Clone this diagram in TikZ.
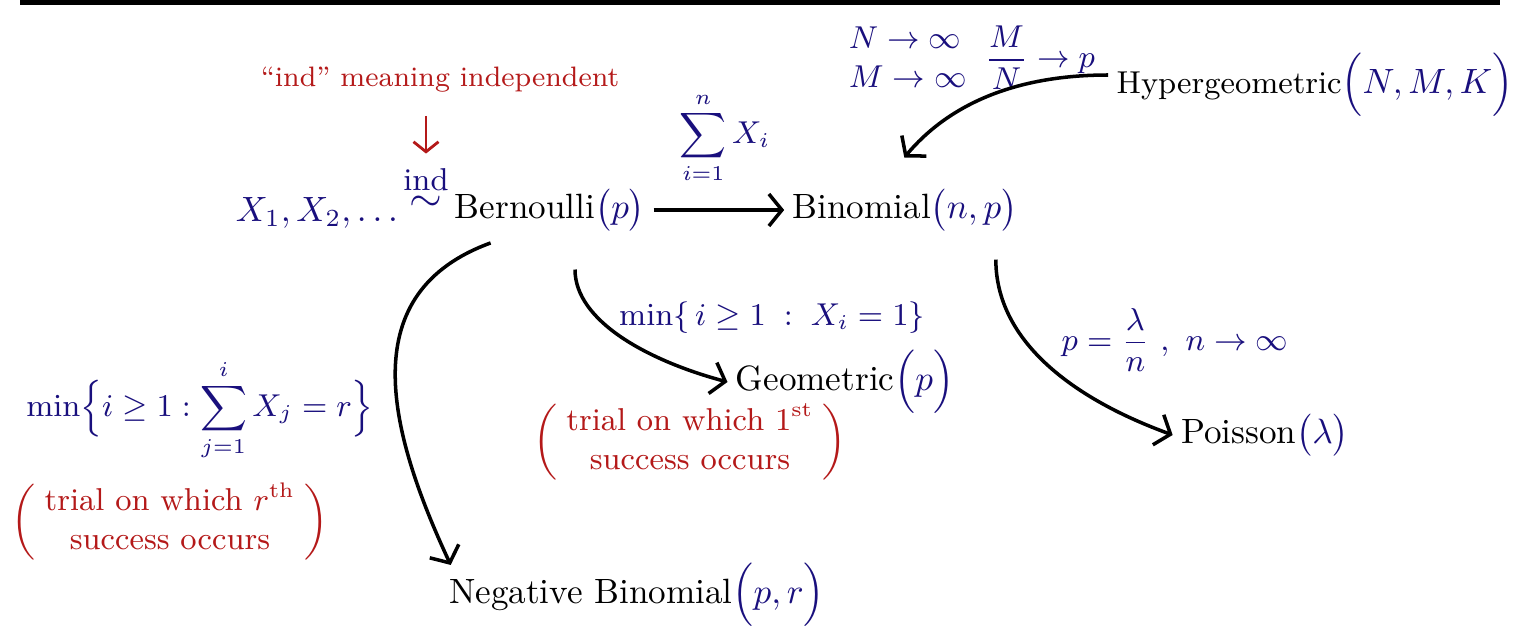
\documentclass[tikz,border=0pt]{standalone}
\usepackage{amsmath}
\usetikzlibrary{calc,arrows.meta}
\definecolor{inkblue}{RGB}{25,15,125}
\definecolor{inkred}{RGB}{180,25,25}

\begin{document}
\begin{tikzpicture}[thick,
  arr/.style={-{Straight Barb[length=1.3mm,width=3.2mm]}, line width=1pt},
  dist/.style={inner sep=2pt, font=\normalsize},
  lbl/.style={text=inkblue, font=\small},
  note/.style={text=inkred, font=\small}]
  \useasboundingbox (0,0) rectangle (15.18,-6.44);
  % 顶部粗线
  \draw[line width=3pt] (0.2,0) -- (15.0,0);
  % 分布
  \node[dist] (bern) at (5.50,-2.10) {Bernoulli\textcolor{inkblue}{$\bigl(p\bigr)$}};
  \node[dist] (binom) at (9.05,-2.10) {Binomial\textcolor{inkblue}{$\bigl(n,p\bigr)$}};
  \node[dist] (hyper) at (13.15,-0.85) {{\small Hypergeometric}\textcolor{inkblue}{$\Bigl(N,M,K\Bigr)$}};
  \node[dist] (geo) at (8.45,-3.82) {Geometric\textcolor{inkblue}{$\Bigl(p\Bigr)$}};
  \node[dist] (nbin) at (6.37,-5.95) {Negative Binomial\textcolor{inkblue}{$\Bigl(p,r\Bigr)$}};
  \node[dist] (pois) at (12.65,-4.35) {Poisson\textcolor{inkblue}{$\bigl(\lambda\bigr)$}};
  % 标注
  \node[lbl, font=\normalsize] (xs) at (3.17,-2.13) {$X_1, X_2, \ldots$};
  \node[lbl, align=center, inner sep=1pt] (sim) at (4.26,-1.90) {ind\\[-5pt]{\large$\sim$}};
  \node[note, font=\footnotesize] (indnote) at (4.40,-0.80) {``ind'' meaning independent};
  \node[lbl] (sumlbl) at (7.25,-1.38) {$\displaystyle\sum_{i=1}^{n} X_i$};
  \node[lbl] (hyplbl) at (9.72,-0.60) {$\begin{array}{@{}l@{}}N\to\infty\\ M\to\infty\end{array}\;\;\dfrac{M}{N}\to p$};
  \node[lbl] (geolbl) at (7.72,-3.18) {$\min\{\, i\geq 1 \;:\; X_i = 1\}$};
  \node[note] (geonote) at (6.90,-4.42) {$\left(\;\begin{tabular}{@{}c@{}}trial on which 1\textsuperscript{st}\\ success occurs\end{tabular}\;\right)$};
  \node[lbl] (nblbl) at (2.00,-4.10) {$\displaystyle\min\Bigl\{ i\geq 1 : \sum_{j=1}^{i} X_j = r\Bigr\}$};
  \node[note] (nbnote) at (1.70,-5.22) {$\left(\;\begin{tabular}{@{}c@{}}trial on which $r^{\text{th}}$\\ success occurs\end{tabular}\;\right)$};
  \node[lbl] (poislbl) at (11.75,-3.40) {$p = \dfrac{\lambda}{n}\ ,\ n\to\infty$};
  % 箭头
  \draw[arr] (bern) -- (binom);
  \draw[arr, shorten <=1mm] ([xshift=-5mm]bern.south) to[out=200,in=115,looseness=1.2] ([xshift=1mm,yshift=-1mm]nbin.north west);
  \draw[arr, shorten <=3mm] ([xshift=2.5mm]bern.south) to[out=-90,in=165] (geo.west);
  \draw[arr, shorten <=2mm] ([xshift=-3mm]binom.south east) to[out=-90,in=160] (pois.west);
  \draw[arr, shorten >=3mm] ([yshift=1mm]hyper.west) to[out=180,in=50] ([xshift=-2mm]binom.north);
  \draw[inkred, -{Straight Barb[length=1mm,width=2.5mm]}, shorten <=1mm, shorten >=1mm] (sim |- indnote.south) -- (sim.north);
\end{tikzpicture}
\end{document}
